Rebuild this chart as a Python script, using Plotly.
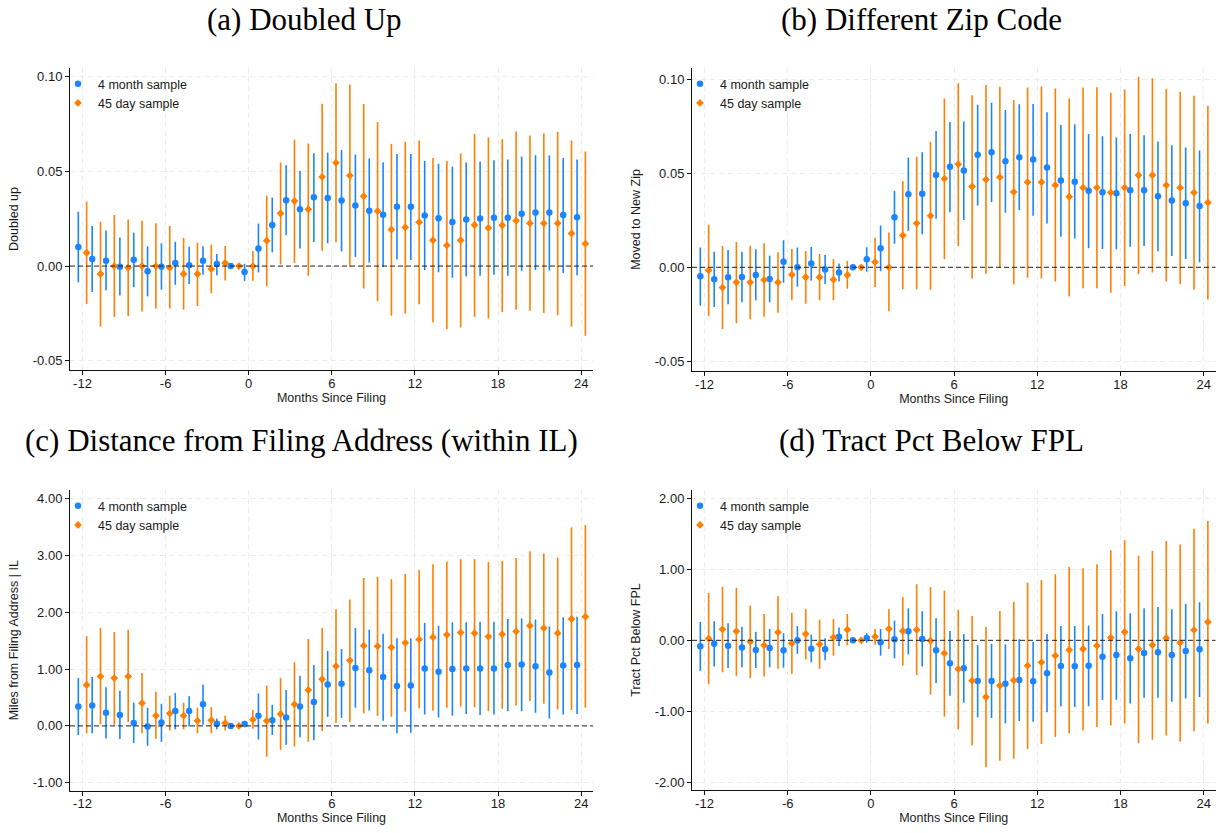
import plotly.graph_objects as go

# ---------------- data ----------------
months = list(range(-12, 25))
x_tick_vals = [-12, -6, 0, 6, 12, 18, 24]
x_tick_text = ["-12", "-6", "0", "6", "12", "18", "24"]

# (a) Doubled Up
a_blue_pt = [0.0100, 0.0037, 0.0028, -0.0004, 0.0033, -0.0028, -0.0004, 0.0016, 0.0004, 0.0028, 0.0011, 0.0,
             -0.0032, 0.0093, 0.0216, 0.0347, 0.0299, 0.0363, 0.0359, 0.0345, 0.0319, 0.0292, 0.0271, 0.0313,
             0.0313, 0.0266, 0.0252, 0.0232, 0.0245, 0.0250, 0.0255, 0.0255, 0.0276, 0.0282, 0.0282, 0.0269, 0.0257]
a_blue_lo = [-0.0086, -0.0137, -0.0128, -0.0155, -0.0111, -0.0160, -0.0125, -0.0099, -0.0095, -0.0046, -0.0048, 0.0,
             -0.0079, -0.0033, 0.0072, 0.0162, 0.0093, 0.0127, 0.0120, 0.0077, 0.0048, 0.0018, -0.0005, 0.0035,
             0.0032, -0.0021, -0.0033, -0.0062, -0.0055, -0.0051, -0.0046, -0.0051, -0.0025, -0.0021, -0.0023, -0.0037, -0.0049]
a_blue_hi = [0.0287, 0.0211, 0.0187, 0.0150, 0.0176, 0.0104, 0.0120, 0.0128, 0.0102, 0.0104, 0.0063, 0.0,
             0.0012, 0.0224, 0.0361, 0.0532, 0.0503, 0.0595, 0.0598, 0.0612, 0.0588, 0.0567, 0.0547, 0.0590,
             0.0590, 0.0554, 0.0539, 0.0524, 0.0546, 0.0551, 0.0558, 0.0561, 0.0577, 0.0584, 0.0583, 0.0570, 0.0561]
a_orng_pt = [0.0070, -0.0042, 0.0, -0.0009, 0.0, 0.0, -0.0009, -0.0042, -0.0042, -0.0016, 0.0016, 0.0,
             0.0, 0.0134, 0.0278, 0.0343, 0.0299, 0.0470, 0.0544, 0.0477, 0.0368, 0.0289, 0.0192, 0.0204,
             0.0231, 0.0136, 0.0109, 0.0136, 0.0216, 0.0201, 0.0215, 0.0239, 0.0225, 0.0225, 0.0225, 0.0172, 0.0118]
a_orng_lo = [-0.0201, -0.0319, -0.0269, -0.0264, -0.0239, -0.0224, -0.0224, -0.0230, -0.0211, -0.0144, -0.0076, 0.0,
             -0.0077, -0.0107, 0.0009, 0.0016, -0.0051, 0.0081, 0.0125, -0.0004, -0.0118, -0.0185, -0.0262, -0.0250,
             -0.0202, -0.0297, -0.0333, -0.0324, -0.0268, -0.0276, -0.0243, -0.0231, -0.0236, -0.0248, -0.0259, -0.0319, -0.0368]
a_orng_hi = [0.0340, 0.0234, 0.0269, 0.0246, 0.0239, 0.0225, 0.0211, 0.0148, 0.0123, 0.0113, 0.0106, 0.0,
             0.0079, 0.0371, 0.0546, 0.0667, 0.0646, 0.0855, 0.0963, 0.0957, 0.0854, 0.0760, 0.0644, 0.0656,
             0.0662, 0.0570, 0.0554, 0.0593, 0.0697, 0.0678, 0.0669, 0.0709, 0.0688, 0.0699, 0.0708, 0.0662, 0.0604]
a_ytick_vals = [-0.05, 0.0, 0.05, 0.10]
a_ytick_text = ["-0.05", "0.00", "0.05", "0.10"]

# (b) Different Zip Code
b_blue_pt = [-0.0048, -0.0064, -0.0053, -0.0052, -0.0041, -0.0062, 0.0030, 0.0, 0.0020, -0.0012, -0.0028, 0.0,
             0.0043, 0.0101, 0.0266, 0.0389, 0.0392, 0.0492, 0.0535, 0.0515, 0.0599, 0.0613, 0.0565, 0.0586,
             0.0574, 0.0531, 0.0462, 0.0456, 0.0407, 0.0400, 0.0394, 0.0410, 0.0410, 0.0378, 0.0355, 0.0341, 0.0327]
b_blue_lo = [-0.0204, -0.0211, -0.0197, -0.0186, -0.0176, -0.0186, -0.0082, -0.0103, -0.0071, -0.0089, -0.0076, 0.0,
             -0.0023, -0.0021, 0.0126, 0.0194, 0.0176, 0.0259, 0.0293, 0.0252, 0.0329, 0.0348, 0.0290, 0.0304,
             0.0275, 0.0233, 0.0163, 0.0153, 0.0101, 0.0098, 0.0096, 0.0110, 0.0114, 0.0085, 0.0060, 0.0044, 0.0027]
b_blue_hi = [0.0105, 0.0083, 0.0092, 0.0083, 0.0096, 0.0062, 0.0144, 0.0105, 0.0108, 0.0066, 0.0020, 0.0,
             0.0107, 0.0222, 0.0407, 0.0584, 0.0613, 0.0725, 0.0774, 0.0776, 0.0865, 0.0876, 0.0838, 0.0868,
             0.0870, 0.0826, 0.0758, 0.0762, 0.0710, 0.0698, 0.0691, 0.0709, 0.0703, 0.0670, 0.0650, 0.0638, 0.0622]
b_orng_pt = [-0.0016, -0.0108, -0.0080, -0.0080, -0.0067, -0.0080, -0.0039, -0.0053, -0.0053, -0.0066, -0.0041, 0.0,
             0.0028, 0.0, 0.0170, 0.0234, 0.0274, 0.0472, 0.0549, 0.0430, 0.0467, 0.0480, 0.0401, 0.0453,
             0.0453, 0.0437, 0.0375, 0.0424, 0.0424, 0.0398, 0.0424, 0.0490, 0.0490, 0.0437, 0.0424, 0.0398, 0.0345]
b_orng_lo = [-0.0259, -0.0329, -0.0298, -0.0277, -0.0263, -0.0242, -0.0176, -0.0194, -0.0176, -0.0176, -0.0114, 0.0,
             -0.0105, -0.0234, -0.0117, -0.0117, -0.0119, 0.0043, 0.0114, -0.0060, -0.0034, 0.0, -0.0092, -0.0055,
             -0.0060, -0.0076, -0.0156, -0.0112, -0.0112, -0.0135, -0.0099, -0.0037, -0.0028, -0.0076, -0.0089, -0.0119, -0.0172]
b_orng_hi = [0.0227, 0.0114, 0.0135, 0.0115, 0.0128, 0.0080, 0.0098, 0.0087, 0.0071, 0.0043, 0.0034, 0.0,
             0.0158, 0.0185, 0.0460, 0.0588, 0.0668, 0.0899, 0.0980, 0.0916, 0.0970, 0.0961, 0.0890, 0.0957,
             0.0963, 0.0952, 0.0899, 0.0957, 0.0959, 0.0929, 0.0947, 0.1014, 0.1007, 0.0950, 0.0934, 0.0913, 0.0860]
b_ytick_vals = [-0.05, 0.0, 0.05, 0.10]
b_ytick_text = ["-0.05", "0.00", "0.05", "0.10"]

# (c) Distance from Filing Address (within IL)
c_blue_pt = [0.34, 0.36, 0.23, 0.19, 0.05, -0.01, 0.06, 0.26, 0.26, 0.38, 0.04, 0.0,
             0.035, 0.18, 0.10, 0.15, 0.34, 0.42, 0.73, 0.74, 1.02, 0.98, 0.86, 0.70,
             0.71, 1.01, 0.95, 1.00, 1.01, 1.01, 1.01, 1.07, 1.08, 1.05, 0.94, 1.06, 1.07]
c_blue_lo = [-0.16, -0.13, -0.22, -0.23, -0.30, -0.35, -0.28, -0.06, -0.01, 0.02, -0.06, 0.0,
             -0.02, -0.24, -0.16, -0.33, -0.20, -0.25, 0.16, 0.14, 0.32, 0.27, 0.09, -0.13,
             -0.12, 0.20, 0.15, 0.18, 0.21, 0.19, 0.20, 0.26, 0.26, 0.23, 0.13, 0.20, 0.21]
c_blue_hi = [0.84, 0.86, 0.68, 0.62, 0.41, 0.32, 0.39, 0.58, 0.52, 0.73, 0.13, 0.0,
             0.09, 0.57, 0.37, 0.63, 0.88, 1.07, 1.32, 1.35, 1.72, 1.69, 1.62, 1.54,
             1.54, 1.81, 1.76, 1.82, 1.82, 1.83, 1.83, 1.88, 1.89, 1.87, 1.75, 1.91, 1.92]
c_orng_pt = [0.72, 0.87, 0.84, 0.87, 0.40, 0.18, 0.22, 0.18, 0.09, 0.10, 0.05, 0.0,
             0.11, 0.09, 0.21, 0.38, 0.63, 0.82, 1.05, 1.15, 1.41, 1.40, 1.38, 1.46,
             1.52, 1.56, 1.60, 1.64, 1.63, 1.57, 1.61, 1.66, 1.76, 1.72, 1.63, 1.88, 1.92]
c_orng_lo = [-0.13, 0.03, 0.02, 0.07, -0.13, -0.23, -0.08, -0.06, -0.13, -0.13, -0.08, 0.0,
             -0.05, -0.54, -0.42, -0.36, -0.28, -0.09, 0.05, 0.07, 0.22, 0.18, 0.16, 0.25,
             0.31, 0.27, 0.32, 0.34, 0.33, 0.26, 0.30, 0.36, 0.44, 0.39, 0.29, 0.28, 0.32]
c_orng_hi = [1.58, 1.72, 1.65, 1.69, 0.93, 0.60, 0.53, 0.41, 0.32, 0.33, 0.18, 0.0,
             0.28, 0.71, 0.84, 1.12, 1.53, 1.72, 2.05, 2.22, 2.60, 2.62, 2.58, 2.67,
             2.74, 2.84, 2.89, 2.93, 2.93, 2.88, 2.90, 2.95, 3.07, 3.03, 2.96, 3.49, 3.53]
c_ytick_vals = [-1, 0, 1, 2, 3, 4]
c_ytick_text = ["-1.00", "0.00", "1.00", "2.00", "3.00", "4.00"]

# (d) Tract Pct Below FPL
d_blue_pt = [-0.085, -0.047, -0.075, -0.10, -0.136, -0.108, -0.14, 0.0, -0.117, -0.127, 0.05, 0.0,
             0.033, -0.028, 0.014, 0.127, 0.019, -0.14, -0.324, -0.394, -0.573, -0.573, -0.61, -0.56,
             -0.577, -0.465, -0.361, -0.366, -0.357, -0.23, -0.207, -0.254, -0.178, -0.169, -0.207, -0.15, -0.127]
d_blue_lo = [-0.43, -0.37, -0.39, -0.38, -0.39, -0.38, -0.385, -0.19, -0.31, -0.28, -0.08, 0.0,
             -0.033, -0.216, -0.254, -0.197, -0.37, -0.60, -0.78, -0.88, -1.085, -1.094, -1.17, -1.136,
             -1.146, -1.014, -0.93, -0.94, -0.93, -0.84, -0.836, -0.89, -0.81, -0.81, -0.864, -0.82, -0.80]
d_blue_hi = [0.26, 0.27, 0.24, 0.19, 0.12, 0.16, 0.10, 0.20, 0.08, 0.03, 0.18, 0.0,
             0.10, 0.16, 0.277, 0.45, 0.41, 0.31, 0.13, 0.09, -0.066, -0.05, -0.056, 0.014,
             -0.019, 0.09, 0.20, 0.20, 0.21, 0.37, 0.41, 0.38, 0.45, 0.47, 0.437, 0.51, 0.535]
d_orng_pt = [0.023, 0.155, 0.127, -0.019, -0.07, 0.113, -0.042, 0.09, -0.056, 0.042, 0.15, 0.0,
             0.052, 0.16, 0.131, 0.148, -0.005, -0.183, -0.404, -0.568, -0.798, -0.638, -0.563, -0.357,
             -0.31, -0.216, -0.136, -0.122, -0.075, 0.038, 0.117, -0.122, -0.066, 0.033, -0.033, 0.146, 0.258]
d_orng_lo = [-0.62, -0.45, -0.50, -0.53, -0.51, -0.40, -0.47, -0.27, -0.40, -0.216, -0.07, 0.0,
             -0.061, -0.122, -0.357, -0.49, -0.765, -1.075, -1.254, -1.479, -1.789, -1.695, -1.667, -1.53,
             -1.46, -1.36, -1.31, -1.27, -1.22, -1.20, -1.17, -1.45, -1.40, -1.34, -1.43, -1.28, -1.17]
d_orng_hi = [0.667, 0.756, 0.74, 0.49, 0.37, 0.62, 0.39, 0.44, 0.29, 0.30, 0.37, 0.0,
             0.16, 0.437, 0.61, 0.79, 0.75, 0.70, 0.43, 0.343, 0.188, 0.413, 0.54, 0.812,
             0.85, 0.93, 1.033, 1.014, 1.07, 1.27, 1.41, 1.19, 1.26, 1.40, 1.35, 1.57, 1.68]
d_ytick_vals = [-2, -1, 0, 1, 2]
d_ytick_text = ["-2.00", "-1.00", "0.00", "1.00", "2.00"]

panel_titles = ["(a) Doubled Up", "(b) Different Zip Code",
                "(c) Distance from Filing Address (within IL)", "(d) Tract Pct Below FPL"]
y_titles = ["Doubled up", "Moved to New Zip", "Miles from Filing Address | IL", "Tract Pct Below FPL"]
x_title = "Months Since Filing"
series_names = ["4 month sample", "45 day sample"]

# ---------------- styling ----------------
W, H = 1225, 833
BLUE = "#1a85ff"
ORANGE = "#ff7f00"
SANS = "Liberation Sans, Arial, sans-serif"
SERIF = "Liberation Serif, Times New Roman, serif"
TXT = "#1a1a1a"
DODGE = 0.3

panels = [
    dict(blue=(a_blue_pt, a_blue_lo, a_blue_hi), orng=(a_orng_pt, a_orng_lo, a_orng_hi),
         yt=(a_ytick_vals, a_ytick_text), yr=[-0.0548, 0.1044], box=(70, 593, 68, 370), tx=304, ty=20),
    dict(blue=(b_blue_pt, b_blue_lo, b_blue_hi), orng=(b_orng_pt, b_orng_lo, b_orng_hi),
         yt=(b_ytick_vals, b_ytick_text), yr=[-0.0552, 0.1061], box=(692, 1215.5, 68, 371), tx=921, ty=20),
    dict(blue=(c_blue_pt, c_blue_lo, c_blue_hi), orng=(c_orng_pt, c_orng_lo, c_orng_hi),
         yt=(c_ytick_vals, c_ytick_text), yr=[-1.135, 4.146], box=(70, 593, 490, 790.5), tx=301, ty=440),
    dict(blue=(d_blue_pt, d_blue_lo, d_blue_hi), orng=(d_orng_pt, d_orng_lo, d_orng_hi),
         yt=(d_ytick_vals, d_ytick_text), yr=[-2.108, 2.117], box=(692, 1215.5, 490, 790), tx=931, ty=440),
]

fig = go.Figure()
layout = dict(
    width=W, height=H, margin=dict(l=0, r=0, t=0, b=0),
    paper_bgcolor="white", plot_bgcolor="white",
    font=dict(family=SANS, size=13, color=TXT),
    annotations=[], shapes=[],
)

for i, p in enumerate(panels):
    n = i + 1
    sfx = "" if n == 1 else str(n)
    xa, ya = "x" + sfx, "y" + sfx
    leg = "legend" + sfx
    x0, x1, y0, y1 = p["box"]

    for (pt, lo, hi), name, color, sym, size, off in [
        (p["blue"], series_names[0], BLUE, "circle", 6.5, -DODGE),
        (p["orng"], series_names[1], ORANGE, "diamond", 6, DODGE),
    ]:
        fig.add_trace(go.Scatter(
            x=[m + off for m in months], y=pt, mode="markers", name=name,
            xaxis=xa, yaxis=ya, legend=leg,
            marker=dict(color=color, symbol=sym, size=size, line=dict(width=0)),
            error_y=dict(type="data", symmetric=False,
                         array=[h - v for h, v in zip(hi, pt)],
                         arrayminus=[v - l for v, l in zip(pt, lo)],
                         color=color, thickness=1.6, width=0),
        ))

    axis_common = dict(
        showline=True, linecolor="#111", linewidth=1, mirror=False,
        ticks="outside", ticklen=4, tickcolor="#111", tickwidth=1,
        showgrid=True, gridcolor="#ebebeb", gridwidth=1, griddash="5px,4px",
        zeroline=False, tickfont=dict(family=SANS, size=13, color=TXT),
    )
    layout["xaxis" + sfx] = dict(
        axis_common, domain=[x0 / W, x1 / W], anchor=ya, range=[-12.9, 24.85],
        tickvals=x_tick_vals, ticktext=x_tick_text, ticklabelstandoff=-3,
        title=dict(text=x_title, font=dict(family=SANS, size=12.5, color=TXT), standoff=3),
    )
    layout["yaxis" + sfx] = dict(
        axis_common, domain=[1 - y1 / H, 1 - y0 / H], anchor=xa, range=p["yr"],
        tickvals=p["yt"][0], ticktext=p["yt"][1],
        title=dict(text=y_titles[i], font=dict(family=SANS, size=12.5, color=TXT), standoff=11),
    )
    layout[leg] = dict(
        x=(x0 - 12) / W, y=1 - (y0 + 1) / H, xanchor="left", yanchor="top",
        bgcolor="rgba(0,0,0,0)", borderwidth=0, itemwidth=30,
        font=dict(family=SANS, size=12.5, color=TXT), tracegroupgap=0,
    )
    layout["shapes"].append(dict(
        type="line", xref=xa + " domain", yref=ya, x0=0, x1=1, y0=0, y1=0,
        line=dict(color="#222", width=1, dash="5px,3px"), layer="above",
    ))
    layout["annotations"].append(dict(
        text=panel_titles[i], xref="paper", yref="paper",
        x=p["tx"] / W, y=1 - p["ty"] / H, xanchor="center", yanchor="middle",
        showarrow=False, font=dict(family=SERIF, size=31, color="black"),
    ))

fig.update_layout(**layout)
fig.write_html("out.html")
